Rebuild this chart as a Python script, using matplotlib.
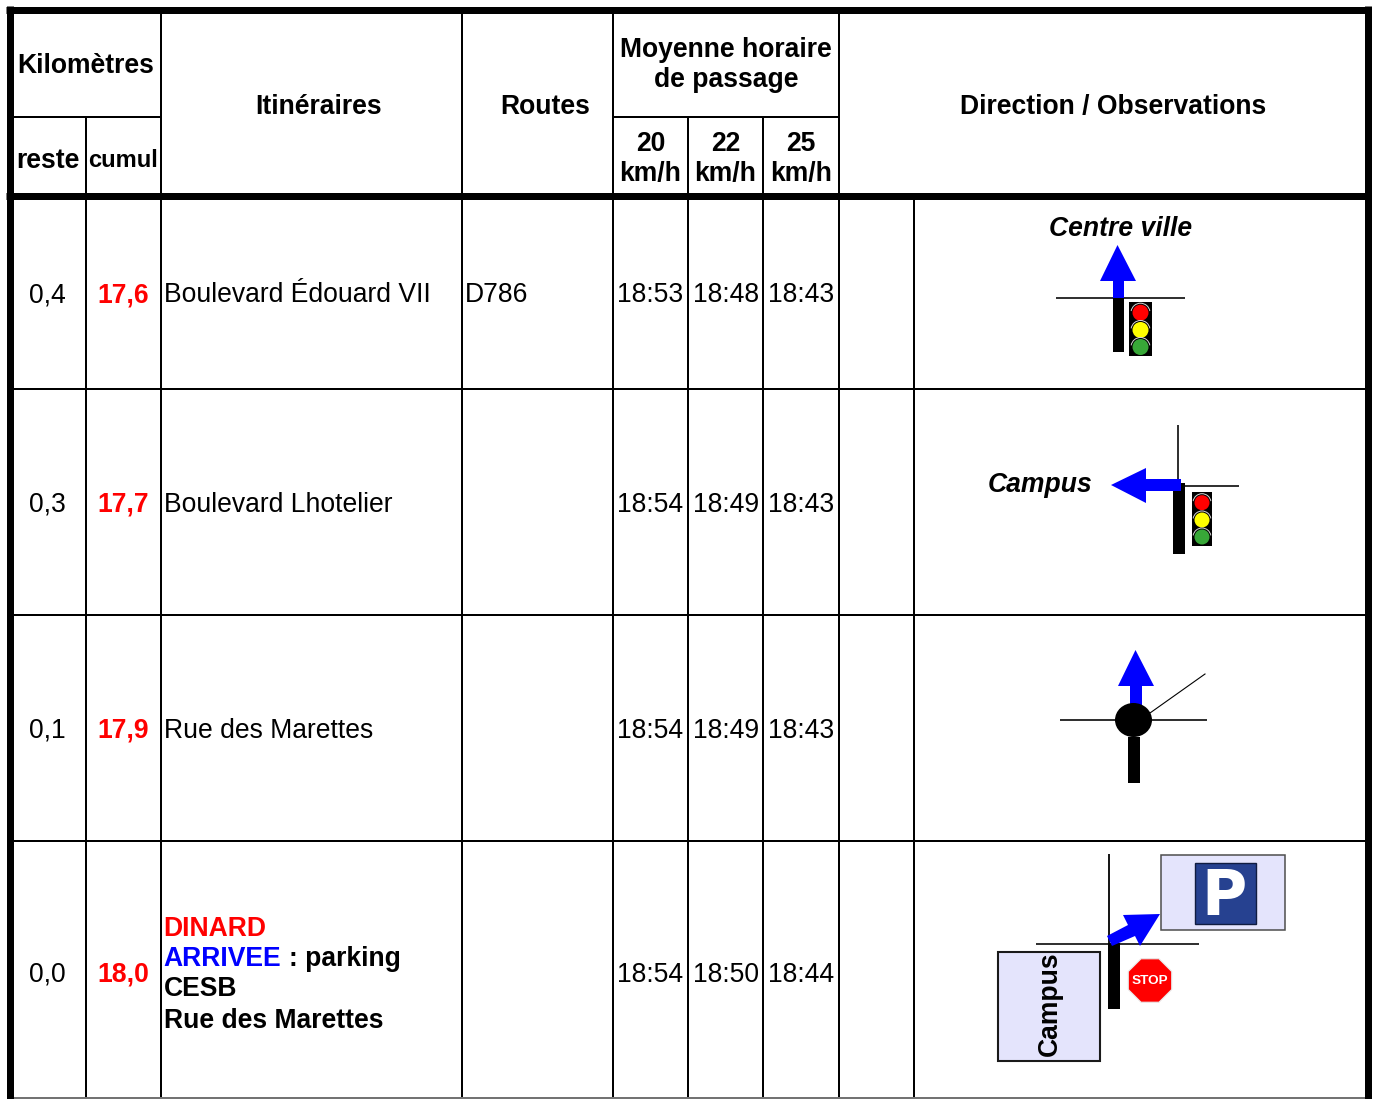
"""Road-book table, drawn in pixel coordinates of the 1374x1099 page."""
import matplotlib; matplotlib.use("Agg")
import matplotlib.pyplot as plt
from matplotlib.patches import Polygon, Rectangle, Ellipse, Circle, RegularPolygon, Arc

# ---- table content ----
reste = ["0,4", "0,3", "0,1", "0,0"]
cumul = ["17,6", "17,7", "17,9", "18,0"]
itineraires = ["Boulevard Édouard VII", "Boulevard Lhotelier", "Rue des Marettes", ""]
routes = ["D786", "", "", ""]
t20 = ["18:53", "18:54", "18:54", "18:54"]
t22 = ["18:48", "18:49", "18:49", "18:50"]
t25 = ["18:43", "18:43", "18:43", "18:44"]
speeds = ["20\nkm/h", "22\nkm/h", "25\nkm/h"]

plt.rcParams["font.family"] = ["Liberation Sans", "DejaVu Sans"]
BLUE, FS = "#0000ff", 19.1
PX = 0.72  # points per pixel at dpi 100

fig = plt.figure(figsize=(13.74, 10.99), dpi=100)
ax = fig.add_axes([0, 0, 1, 1])
ax.set_xlim(0, 1374); ax.set_ylim(1099, 0); ax.axis("off")


def hl(y, x0, x1, lw=2, c="k", z=2):
    ax.plot([x0, x1], [y, y], color=c, lw=lw * PX, solid_capstyle="butt", zorder=z)


def vl(x, y0, y1, lw=2, c="k", z=2):
    ax.plot([x, x], [y0, y1], color=c, lw=lw * PX, solid_capstyle="butt", zorder=z)


def txt(x, y, s, ha="center", size=FS, weight="normal", style="normal", color="k", **kw):
    ax.text(x, y, s, ha=ha, va="center", fontsize=size, fontweight=weight, fontstyle=style,
            color=color, linespacing=1.24, zorder=6, **kw)


def poly(pts, c=BLUE, z=4):
    ax.add_patch(Polygon(pts, closed=True, fc=c, ec="none", zorder=z))


def light(x, y, w=23, r=8):
    # three-lamp traffic light, x,y = top-left corner
    ax.add_patch(Rectangle((x, y), w, 54, fc="k", ec="none", zorder=4))
    for dy, c in zip((10.7, 28, 45), ("#ff0000", "#ffff00", "#38a838")):
        ax.add_patch(Circle((x + w / 2, y + dy), r, fc=c, ec="none", zorder=5))
        # y axis is inverted, so the top of the lamp is the 180-360 degree side
        ax.add_patch(Arc((x + w / 2, y + dy), 2 * r + 3, 2 * r + 3, theta1=190, theta2=350,
                         ec="0.85", lw=0.7, zorder=5))


# ---- grid ----
for x in (161, 462, 613, 839):
    vl(x, 10, 1099)
for x in (86, 688, 763):
    vl(x, 116, 1099)
vl(914, 196, 1099)
hl(116.5, 10, 161); hl(116.5, 613, 839)
for y in (388.5, 614.5, 840.5):
    hl(y, 10, 1367)
hl(1098, 10, 1367, c="0.45")
hl(9.5, 6, 1371, lw=7); hl(195.5, 6, 1371, lw=7)
vl(10, 6, 1099, lw=7); vl(1367.5, 6, 1099, lw=7)

# ---- header ----
txt(86, 66, "Kilomètres", weight="bold")
txt(48, 160.5, "reste", weight="bold")
txt(123, 160.5, "cumul", size=17.1, weight="bold")
txt(318.5, 107, "Itinéraires", weight="bold")
txt(545, 107, "Routes", weight="bold")
txt(726, 65, "Moyenne horaire\nde passage", weight="bold")
for x, s in zip((650.5, 725.5, 801), speeds):
    txt(x, 159, s, weight="bold")
txt(1113.5, 107, "Direction / Observations", weight="bold")

# ---- rows ----
row_y = [295.5, 504.5, 730.5, 974.5]
for i, y in enumerate(row_y):
    txt(47.5, y, reste[i])
    txt(123, y, cumul[i], weight="bold", color="#ff0000")
    txt(164, y, itineraires[i], ha="left")
    txt(465, y, routes[i], ha="left")
    txt(650.5, y, t20[i]); txt(726, y, t22[i]); txt(801.5, y, t25[i])

txt(163.5, 928.5, "DINARD", ha="left", weight="bold", color="#ff0000")
txt(163.5, 959.5, "ARRIVEE", ha="left", weight="bold", color=BLUE)
txt(289, 959.5, ": parking", ha="left", weight="bold")
txt(163.5, 989.5, "CESB", ha="left", weight="bold")
txt(163.5, 1020.5, "Rue des Marettes", ha="left", weight="bold")

# ---- row 1 sketch ----
txt(1121, 229.5, "Centre ville", weight="bold", style="italic")
hl(298, 1056, 1185, lw=1.6, z=3)
poly([(1117.5, 245), (1100, 281), (1113, 281), (1113, 298), (1124, 298), (1124, 281), (1136, 281)])
ax.add_patch(Rectangle((1113, 298), 11, 54, fc="k", ec="none", zorder=4))
light(1129, 302)

# ---- row 2 sketch ----
txt(1040, 485.5, "Campus", weight="bold", style="italic")
vl(1177.5, 425, 485, lw=1.6)
hl(485.5, 1182, 1239, lw=1.6)
ax.add_patch(Rectangle((1173, 483), 12, 71, fc="k", ec="none", zorder=3))
poly([(1111, 485), (1146, 468), (1146, 479), (1181, 479), (1181, 491), (1146, 491), (1146, 503)])
light(1192, 492, w=20, r=7.5)

# ---- row 3 sketch ----
hl(720, 1060, 1207, lw=1.6)
ax.plot([1150, 1205], [713, 674], color="k", lw=0.8, zorder=3)
poly([(1135.5, 650), (1118, 686), (1130, 686), (1130, 706), (1142, 706), (1142, 686), (1154, 686)])
ax.add_patch(Ellipse((1133.5, 720), 37, 34, fc="k", ec="none", zorder=5))
ax.add_patch(Rectangle((1128, 737), 12, 46, fc="k", ec="none", zorder=4))

# ---- row 4 sketch ----
vl(1109, 854, 945, lw=1.8)
hl(943.5, 1036, 1199, lw=1.6)
ax.add_patch(Rectangle((1108, 943), 12, 66, fc="k", ec="none", zorder=3))
poly([(1107, 936), (1128, 925), (1123, 915), (1160, 914), (1140, 946), (1135, 936), (1112, 946)])
# parking panel
ax.add_patch(Rectangle((1160.5, 854.5), 124, 75, fc="#e4e4fc", ec="0.3", lw=1.1, zorder=3))
ax.add_patch(Rectangle((1195, 862.5), 60.5, 61, fc="#264190", ec="#101c40", lw=1, zorder=4))
ax.text(1224, 915, "P", ha="center", va="baseline", fontsize=44.5, fontweight="bold", color="white",
        family="DejaVu Sans", zorder=5)
# campus panel
ax.add_patch(Rectangle((997.5, 952), 102.5, 109, fc="#e4e4fc", ec="0.1", lw=1.5, zorder=3))
txt(1050, 1004, "Campus", weight="bold", rotation=90)
# stop sign
ax.add_patch(RegularPolygon((1150, 980.5), 8, radius=23.5, orientation=0.3927, fc="#ff0000",
                            ec="#e8e8e8", lw=0.8, zorder=4))
ax.text(1150, 981, "STOP", ha="center", va="center", fontsize=9.7, fontweight="bold", color="white", zorder=5)

fig.savefig("out.png", dpi=100)
